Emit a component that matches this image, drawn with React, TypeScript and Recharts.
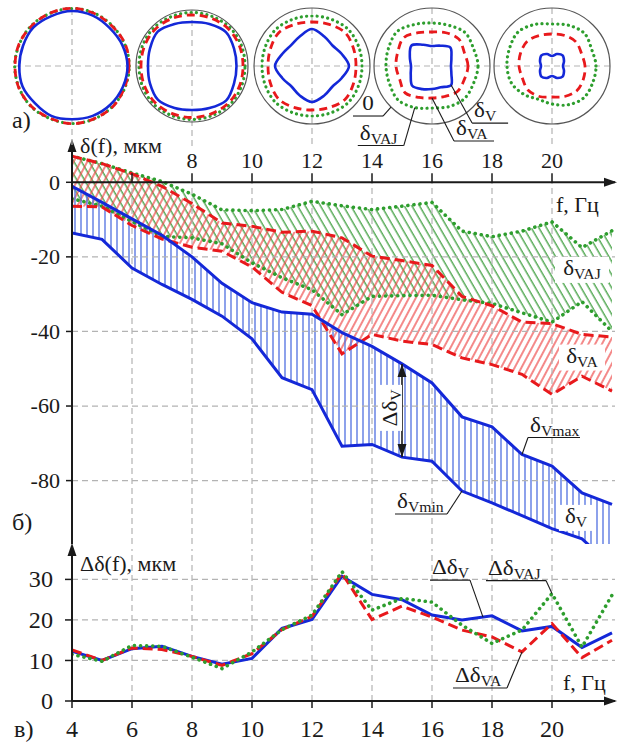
import React from 'react';
import { ComposedChart, LineChart, Line, Area, XAxis, YAxis, ReferenceLine, ReferenceDot } from 'recharts';

const FONT = "'Liberation Serif', 'Times New Roman', serif";
const SX = 1.05;
const INK = '#1a1a1a';
const BLUE = '#1428d8';
const RED = '#e8191c';
const GREEN = '#2e9e2e';
const GRID = '#b3b3b3';

// ---------- main panel (б) ----------
const freq = [4, 5, 6, 7, 8, 9, 10, 11, 12, 13, 14, 15, 16, 17, 18, 19, 20, 21, 22];
const vMax = [-1.1, -5.4, -9.8, -14.2, -20.0, -27.1, -32.3, -34.8, -35.4, -40.3, -44.0, -48.7, -53.8, -62.9, -65.6, -73.0, -76.1, -83.3, -86.4];
const vMin = [-13.6, -15.3, -23.0, -27.4, -31.4, -35.9, -42.0, -52.4, -55.6, -70.8, -70.3, -73.7, -74.8, -82.8, -86.0, -89.4, -92.9, -95.6, -103.0];
const vaUp = [7.0, 5.0, 2.3, -1.1, -5.7, -10.9, -11.8, -13.4, -13.1, -14.9, -19.8, -21.0, -22.3, -30.6, -33.1, -37.5, -37.9, -40.8, -41.5];
const vaLow = [-6.4, -6.6, -11.6, -15.2, -17.4, -18.5, -22.7, -29.5, -33.1, -46.0, -40.8, -42.6, -43.5, -47.1, -48.9, -51.5, -56.9, -52.0, -56.0];
const vajUp = [7.0, 5.0, 2.5, 0.2, -3.2, -7.4, -7.6, -7.3, -5.1, -6.3, -7.3, -6.4, -5.4, -13.1, -14.6, -13.1, -10.6, -17.5, -13.0];
const vajLow = [-4.4, -6.4, -10.5, -14.5, -14.9, -16.5, -21.6, -25.6, -28.8, -35.5, -30.6, -30.4, -30.3, -31.5, -32.5, -35.0, -37.5, -32.0, -40.0];
const mainYTicks = [-80, -60, -40, -20, 0];
const mainGridY = [-20, -40, -60, -80];
const mainGridX = [6, 8, 10, 12, 14, 16, 18, 20];
const mainXLabels = [8, 10, 12, 14, 16, 18, 20];

// ---------- bottom panel (в) ----------
const dV = [12.3, 10.0, 12.9, 13.5, 11.0, 9.1, 10.5, 17.9, 20.1, 30.8, 26.3, 25.0, 21.2, 20.0, 21.0, 17.3, 18.4, 13.2, 16.8];
const dVA = [12.6, 10.0, 13.1, 12.7, 11.0, 8.8, 11.7, 17.6, 20.9, 31.5, 20.1, 23.4, 20.7, 17.5, 15.8, 12.1, 19.1, 10.7, 15.0];
const dVAJ = [11.5, 9.8, 13.7, 13.5, 10.8, 8.0, 12.1, 17.6, 21.2, 31.9, 22.4, 25.3, 24.4, 18.7, 14.2, 17.5, 26.5, 13.3, 26.1];
const botYTicks = [0, 10, 20, 30];
const botXTicks = [4, 6, 8, 10, 12, 14, 16, 18, 20];
const botGridY = [10, 20, 30];

// ---------- polar profiles (а) ----------
const polarAngles = [0, 22.5, 45, 67.5, 90, 112.5, 135, 157.5, 180, 202.5, 225, 247.5, 270, 292.5, 315, 337.5];
const p4V = [55.5, 54.5, 53.5, 54.5, 55, 54, 54.5, 53, 52.7, 53.5, 52.5, 54, 53.3, 54, 54.5, 55];
const p4VA = [57, 57.5, 56.5, 57, 57.7, 57.2, 56.8, 57.3, 57, 57.5, 57.2, 56.6, 57.7, 57.2, 57.6, 56.8];
const p4VAJ = [57.3, 57, 57, 57.4, 57.5, 57, 57.3, 57, 57.3, 57.2, 57.6, 57, 57.5, 57.4, 57.2, 57.2];
const p8V = [44.5, 45.5, 48, 45.5, 44, 45.5, 48.5, 45.5, 44, 45.5, 48, 45.5, 44, 45.5, 48.5, 45.5];
const p8VA = [51, 51.5, 52, 51.5, 51, 51.5, 52, 51.5, 51, 51.5, 52, 51.5, 51.5, 51.5, 52, 51.5];
const p8VAJ = [53, 53.5, 54, 53.5, 53.5, 53.5, 54, 53.5, 53, 53.5, 54, 53.5, 53.5, 53.5, 54, 53.5];
const p12V = [37, 32, 29, 32, 37, 32, 29.5, 32, 37, 32, 29, 32, 36, 32, 29, 32];
const p12VA = [44, 45, 47, 45, 44, 45, 47, 45, 44, 45, 47, 45, 44, 45, 47, 45];
const p12VAJ = [50, 50.5, 51.5, 50.5, 50, 50.5, 51.5, 50.5, 50, 50.5, 51.5, 50.5, 50, 50.5, 51.5, 50.5];
const p16V = [19, 21, 26, 22, 20, 23, 29, 24, 21, 23, 28, 25, 23, 23, 27, 21];
const p16VA = [36, 35, 38, 36, 34, 36, 40, 37, 36, 35, 38, 34, 32, 33, 36, 35];
const p16VAJ = [46, 45, 47, 44, 43, 45, 49, 47, 46, 46, 48, 45, 42, 44, 46, 45];
const p20V = [11, 13, 15, 13, 10, 13, 15, 13, 11, 13, 15, 13, 10, 13, 15, 13];
const p20VA = [33, 32, 34, 33, 32, 33, 35, 34, 33, 32, 34, 33, 31, 33, 35, 34];
const p20VAJ = [44, 43, 46, 44, 42, 45, 48, 46, 45, 44, 40, 36, 38, 42, 45, 44];

const mainData = freq.map((f, i) => ({
  f,
  vMax: vMax[i], vMin: vMin[i], vBand: [vMin[i], vMax[i]],
  vaUp: vaUp[i], vaLow: vaLow[i], vaBand: [vaLow[i], vaUp[i]],
  vajUp: vajUp[i], vajLow: vajLow[i], vajBand: [vajLow[i], vajUp[i]],
}));
const botData = freq.map((f, i) => ({ f, dV: dV[i], dVA: dVA[i], dVAJ: dVAJ[i] }));

const toXY = (r: number[]) =>
  r.map((rr, i) => ({ x: rr * Math.cos((polarAngles[i] * Math.PI) / 180), y: rr * Math.sin((polarAngles[i] * Math.PI) / 180) }));

// closed Catmull-Rom curve through the profile points
const closedCurve = (context: any) => {
  let pts: number[][] = [];
  return {
    areaStart() {},
    areaEnd() {},
    lineStart() { pts = []; },
    point(x: number, y: number) { pts.push([+x, +y]); },
    lineEnd() {
      const n = pts.length;
      if (n < 3) return;
      context.moveTo(pts[0][0], pts[0][1]);
      for (let i = 0; i < n; i++) {
        const p0 = pts[(i - 1 + n) % n], p1 = pts[i], p2 = pts[(i + 1) % n], p3 = pts[(i + 2) % n];
        context.bezierCurveTo(
          p1[0] + (p2[0] - p0[0]) / 6, p1[1] + (p2[1] - p0[1]) / 6,
          p2[0] - (p3[0] - p1[0]) / 6, p2[1] - (p3[1] - p1[1]) / 6,
          p2[0], p2[1]);
      }
      context.closePath();
    },
  };
};

function SubText({ x, y, main, sub, size = 22, subSize = 15, anchor = 'start', rotate = 0 }: any) {
  const tr = rotate ? `translate(${x},${y}) rotate(${rotate}) scale(${SX},1)` : `translate(${x},${y}) scale(${SX},1)`;
  return (
    <text transform={tr} textAnchor={anchor} fontFamily={FONT} fontSize={size} fill={INK}>
      {main}
      {sub ? <tspan fontSize={subSize} dy={4}>{sub}</tspan> : null}
    </text>
  );
}

const leaderShape = (o: { dx: number; dy: number; len: number; main: string; sub?: string; size?: number; subSize?: number; center?: boolean }) => (p: any) => {
  const ex = p.cx + o.dx;
  const ey = p.cy + o.dy;
  const ux = ex + o.len;
  const left = Math.min(ex, ux);
  const mid = (ex + ux) / 2;
  return (
    <g>
      <line x1={p.cx} y1={p.cy} x2={ex} y2={ey} stroke={INK} strokeWidth={1.1} />
      <line x1={ex} y1={ey} x2={ux} y2={ey} stroke={INK} strokeWidth={1.1} />
      <SubText x={o.center ? mid : left + 2} y={ey - 6} main={o.main} sub={o.sub} size={o.size || 22} subSize={o.subSize || 15} anchor={o.center ? 'middle' : 'start'} />
    </g>
  );
};

const tagShape = (o: { main: string; sub?: string; w: number; h?: number; rotate?: number }) => (p: any) => {
  const h = o.h || 26;
  if (o.rotate) {
    return (
      <g>
        <rect x={p.cx - h / 2} y={p.cy - o.w / 2} width={h} height={o.w} fill="#fff" />
        <SubText x={p.cx + 7} y={p.cy} main={o.main} sub={o.sub} anchor="middle" rotate={-90} />
      </g>
    );
  }
  return (
    <g>
      <rect x={p.cx - o.w / 2} y={p.cy - h / 2} width={o.w} height={h} fill="#fff" />
      <SubText x={p.cx} y={p.cy + 5} main={o.main} sub={o.sub} anchor="middle" />
    </g>
  );
};

const arrowUp = (p: any) => <polygon points={`${p.cx},${p.cy - 6} ${p.cx - 4.5},${p.cy + 7} ${p.cx + 4.5},${p.cy + 7}`} fill={INK} />;
const arrowDown = (p: any) => <polygon points={`${p.cx},${p.cy} ${p.cx - 4.5},${p.cy - 13} ${p.cx + 4.5},${p.cy - 13}`} fill={INK} />;
const arrowTipUp = (p: any) => <polygon points={`${p.cx},${p.cy} ${p.cx - 4.5},${p.cy + 13} ${p.cx + 4.5},${p.cy + 13}`} fill={INK} />;
const arrowRight = (p: any) => <polygon points={`${p.cx + 2},${p.cy} ${p.cx - 11},${p.cy - 4.5} ${p.cx - 11},${p.cy + 4.5}`} fill={INK} />;

const YTick = (size: number) => (p: any) => (
  <text transform={`translate(${p.x},${p.y}) scale(${SX},1)`} dy="0.35em" textAnchor="end" fontFamily={FONT} fontSize={size} fill={INK}>
    {p.payload.value}
  </text>
);
const XTickBottom = (size: number) => (p: any) => (
  <text transform={`translate(${p.x},${p.y}) scale(${SX},1)`} dy="0.71em" textAnchor="middle" fontFamily={FONT} fontSize={size} fill={INK}>
    {p.payload.value}
  </text>
);
const xLabelShape = (text: string) => (p: any) => (
  <text transform={`translate(${p.cx},${p.cy - 14}) scale(${SX},1)`} textAnchor="middle" fontFamily={FONT} fontSize={21} fill={INK}>
    {text}
  </text>
);

function PolarPanel({ cx, v, va, vaj, ring, labels }: any) {
  const R = ring || 57;
  return (
    <div style={{ position: 'absolute', left: cx - 120, top: 4, width: 240, height: 144 }}>
      <LineChart width={240} height={144} margin={{ top: 0, right: 0, bottom: 0, left: 0 }}>
        <XAxis type="number" dataKey="x" domain={[-120, 120]} hide allowDataOverflow />
        <YAxis type="number" dataKey="y" domain={[-82, 62]} hide allowDataOverflow />
        <ReferenceLine segment={[{ x: -R, y: 0 }, { x: R, y: 0 }]} stroke={GRID} strokeWidth={1.2} strokeDasharray="6 4" ifOverflow="visible" />
        <ReferenceLine segment={[{ x: 0, y: R }, { x: 0, y: -82 }]} stroke={GRID} strokeWidth={1.2} strokeDasharray="6 4" ifOverflow="visible" />
        {ring ? <ReferenceDot x={0} y={0} r={ring} fill="none" stroke="#555" strokeWidth={1.2} ifOverflow="visible" /> : null}
        <Line data={toXY(vaj)} dataKey="y" type={closedCurve as any} stroke={GREEN} strokeWidth={3.2} strokeDasharray="0.1 5.2" strokeLinecap="round" dot={false} activeDot={false} isAnimationActive={false} />
        <Line data={toXY(va)} dataKey="y" type={closedCurve as any} stroke={RED} strokeWidth={2.8} strokeDasharray="8 5" dot={false} activeDot={false} isAnimationActive={false} />
        <Line data={toXY(v)} dataKey="y" type={closedCurve as any} stroke={BLUE} strokeWidth={2.6} dot={false} activeDot={false} isAnimationActive={false} />
        {labels
          ? labels.map((l: any, i: number) => (
              <ReferenceDot key={i} x={l.x} y={l.y} r={1} ifOverflow="visible" shape={leaderShape(l.o)} />
            ))
          : null}
      </LineChart>
    </div>
  );
}

const polarPt = (r: number, idx: number) => ({
  x: r * Math.cos((polarAngles[idx] * Math.PI) / 180),
  y: r * Math.sin((polarAngles[idx] * Math.PI) / 180),
});

export default function App() {
  const g0 = polarPt(58, 10);
  const gVAJ = polarPt(p16VAJ[11], 11);
  const gVA = polarPt(p16VA[12], 12);
  const gV = polarPt(p16V[14], 14);
  const polarLabels = [
    { x: g0.x, y: g0.y, o: { dx: -8, dy: 9, len: -30, main: '0', center: true } },
    { x: gVAJ.x, y: gVAJ.y, o: { dx: -11, dy: 38, len: -46, main: 'δ', sub: 'VAJ' } },
    { x: gVA.x, y: gVA.y, o: { dx: 22, dy: 43, len: 40, main: 'δ', sub: 'VA' } },
    { x: gV.x, y: gV.y, o: { dx: 21, dy: 38, len: 36, main: 'δ', sub: 'V' } },
  ];

  return (
    <div style={{ position: 'absolute', left: 0, top: 0, width: 621, height: 742, overflow: 'hidden', background: '#fff' }}>
      {/* main panel */}
      <div style={{ position: 'absolute', left: 0, top: 0 }}>
        <ComposedChart width={621} height={742} data={mainData} margin={{ top: 145, right: 6, bottom: 198, left: 0 }}>
          <defs>
            <pattern id="hB" patternUnits="userSpaceOnUse" width="6" height="10">
              <line x1="3" y1="0" x2="3" y2="10" stroke="#4f6fe0" strokeWidth="1.3" />
            </pattern>
            <pattern id="hR" patternUnits="userSpaceOnUse" width="6" height="10" patternTransform="rotate(28)">
              <line x1="3" y1="0" x2="3" y2="10" stroke="#ee4a4a" strokeWidth="1.3" />
            </pattern>
            <pattern id="hG" patternUnits="userSpaceOnUse" width="6.6" height="10" patternTransform="rotate(-30)">
              <line x1="3" y1="0" x2="3" y2="10" stroke="#3f9e3f" strokeWidth="1.3" />
            </pattern>
          </defs>
          <XAxis dataKey="f" type="number" domain={[4, 22.1]} hide allowDataOverflow />
          <YAxis
            type="number"
            domain={[-97, 10]}
            ticks={mainYTicks}
            interval={0}
            width={72}
            allowDataOverflow
            axisLine={{ stroke: INK, strokeWidth: 2 }}
            tickLine={{ stroke: INK, strokeWidth: 1.5 }}
            tickSize={6}
            tickMargin={6}
            tick={YTick(21)}
          />
          {mainGridY.map((v) => (
            <ReferenceLine key={'gy' + v} y={v} stroke={GRID} strokeWidth={1.2} strokeDasharray="6 4" ifOverflow="visible" />
          ))}
          {mainGridX.map((f) => (
            <ReferenceLine key={'gx' + f} segment={[{ x: f, y: -97 }, { x: f, y: 0 }]} stroke={GRID} strokeWidth={1.2} strokeDasharray="6 4" ifOverflow="visible" />
          ))}
          <Area dataKey="vajBand" type="linear" fill="url(#hG)" stroke="none" fillOpacity={1} isAnimationActive={false} activeDot={false} />
          <Area dataKey="vaBand" type="linear" fill="url(#hR)" stroke="none" fillOpacity={1} isAnimationActive={false} activeDot={false} />
          <Area dataKey="vBand" type="linear" fill="url(#hB)" stroke="none" fillOpacity={1} isAnimationActive={false} activeDot={false} />
          <Line dataKey="vajUp" type="linear" stroke={GREEN} strokeWidth={3.6} strokeDasharray="0.1 6" strokeLinecap="round" dot={false} activeDot={false} isAnimationActive={false} />
          <Line dataKey="vajLow" type="linear" stroke={GREEN} strokeWidth={3.6} strokeDasharray="0.1 6" strokeLinecap="round" dot={false} activeDot={false} isAnimationActive={false} />
          <Line dataKey="vaUp" type="linear" stroke={RED} strokeWidth={3} strokeDasharray="10 5" dot={false} activeDot={false} isAnimationActive={false} />
          <Line dataKey="vaLow" type="linear" stroke={RED} strokeWidth={3} strokeDasharray="10 5" dot={false} activeDot={false} isAnimationActive={false} />
          <Line dataKey="vMax" type="linear" stroke={BLUE} strokeWidth={3} dot={false} activeDot={false} isAnimationActive={false} />
          <Line dataKey="vMin" type="linear" stroke={BLUE} strokeWidth={3} dot={false} activeDot={false} isAnimationActive={false} />
          <ReferenceLine y={0} stroke={INK} strokeWidth={2} ifOverflow="visible" />
          {mainGridX.map((f) => (
            <ReferenceLine key={'tk' + f} segment={[{ x: f, y: 0 }, { x: f, y: 2.4 }]} stroke={INK} strokeWidth={1.5} ifOverflow="visible" />
          ))}
          {mainXLabels.map((f) => (
            <ReferenceDot key={'xl' + f} x={f} y={0} r={1} ifOverflow="visible" shape={xLabelShape(String(f))} />
          ))}
          <ReferenceDot x={4} y={10} r={1} ifOverflow="visible" shape={arrowUp} />
          <ReferenceDot x={22.1} y={0} r={1} ifOverflow="visible" shape={arrowRight} />
          {/* Δδ_V double arrow at f = 15 */}
          <ReferenceLine segment={[{ x: 15, y: vMin[11] }, { x: 15, y: vMax[11] }]} stroke={INK} strokeWidth={1.6} ifOverflow="visible" />
          <ReferenceDot x={15} y={vMax[11]} r={1} ifOverflow="visible" shape={arrowTipUp} />
          <ReferenceDot x={15} y={vMin[11]} r={1} ifOverflow="visible" shape={arrowDown} />
          <ReferenceDot x={14.6} y={-60.5} r={1} ifOverflow="visible" shape={tagShape({ main: 'Δδ', sub: 'V', w: 46, h: 24, rotate: -90 })} />
          <ReferenceDot x={21} y={-23.5} r={1} ifOverflow="visible" shape={tagShape({ main: 'δ', sub: 'VAJ', w: 54 })} />
          <ReferenceDot x={21} y={-47} r={1} ifOverflow="visible" shape={tagShape({ main: 'δ', sub: 'VA', w: 46 })} />
          <ReferenceDot x={20.8} y={-90} r={1} ifOverflow="visible" shape={tagShape({ main: 'δ', sub: 'V', w: 34 })} />
          <ReferenceDot x={19} y={vMax[15]} r={1} ifOverflow="visible" shape={leaderShape({ dx: 6, dy: -17, len: 52, main: 'δ', sub: 'Vmax' })} />
          <ReferenceDot x={17} y={vMin[13]} r={1} ifOverflow="visible" shape={leaderShape({ dx: -15, dy: 23, len: -52, main: 'δ', sub: 'Vmin' })} />
        </ComposedChart>
      </div>

      {/* bottom panel */}
      <div style={{ position: 'absolute', left: 0, top: 0 }}>
        <LineChart width={621} height={742} data={botData} margin={{ top: 549, right: 6, bottom: 0, left: 0 }}>
          <XAxis
            dataKey="f"
            type="number"
            domain={[4, 22.1]}
            ticks={botXTicks}
            interval={0}
            allowDataOverflow
            height={41}
            axisLine={{ stroke: INK, strokeWidth: 2 }}
            tickLine={{ stroke: INK, strokeWidth: 1.5 }}
            tickSize={7}
            tickMargin={13}
            tick={XTickBottom(23)}
          />
          <YAxis
            type="number"
            domain={[0, 37.5]}
            ticks={botYTicks}
            interval={0}
            width={72}
            allowDataOverflow
            axisLine={{ stroke: INK, strokeWidth: 2 }}
            tickLine={{ stroke: INK, strokeWidth: 1.5 }}
            tickSize={7}
            tickMargin={12}
            tick={YTick(23)}
          />
          {botGridY.map((v) => (
            <ReferenceLine key={'by' + v} y={v} stroke={GRID} strokeWidth={1.2} strokeDasharray="6 4" ifOverflow="visible" />
          ))}
          {mainGridX.map((f) => (
            <ReferenceLine key={'bx' + f} segment={[{ x: f, y: 0 }, { x: f, y: 37.5 }]} stroke={GRID} strokeWidth={1.2} strokeDasharray="6 4" ifOverflow="visible" />
          ))}
          <Line dataKey="dV" type="linear" stroke={BLUE} strokeWidth={3} dot={false} activeDot={false} isAnimationActive={false} />
          <Line dataKey="dVA" type="linear" stroke={RED} strokeWidth={3} strokeDasharray="10 5" dot={false} activeDot={false} isAnimationActive={false} />
          <Line dataKey="dVAJ" type="linear" stroke={GREEN} strokeWidth={3.6} strokeDasharray="0.1 6" strokeLinecap="round" dot={false} activeDot={false} isAnimationActive={false} />
          <ReferenceDot x={4} y={37.5} r={1} ifOverflow="visible" shape={arrowUp} />
          <ReferenceDot x={22.1} y={0} r={1} ifOverflow="visible" shape={arrowRight} />
          <ReferenceDot x={17.7} y={20.7} r={1} ifOverflow="visible" shape={leaderShape({ dx: -13, dy: -37, len: -40, main: 'Δδ', sub: 'V' })} />
          <ReferenceDot x={20} y={dVAJ[16]} r={1} ifOverflow="visible" shape={leaderShape({ dx: -6, dy: -13, len: -60, main: 'Δδ', sub: 'VAJ' })} />
          <ReferenceDot x={19} y={dVA[15]} r={1} ifOverflow="visible" shape={leaderShape({ dx: -15, dy: 36, len: -54, main: 'Δδ', sub: 'VA' })} />
        </LineChart>
      </div>

      {/* polar profiles */}
      <PolarPanel cx={72} v={p4V} va={p4VA} vaj={p4VAJ} ring={0} />
      <PolarPanel cx={192} v={p8V} va={p8VA} vaj={p8VAJ} ring={56} />
      <PolarPanel cx={312} v={p12V} va={p12VA} vaj={p12VAJ} ring={58} />
      <PolarPanel cx={432} v={p16V} va={p16VA} vaj={p16VAJ} ring={58} labels={polarLabels} />
      <PolarPanel cx={552} v={p20V} va={p20VA} vaj={p20VAJ} ring={58} />

      {/* titles */}
      <svg width={621} height={742} style={{ position: 'absolute', left: 0, top: 0, pointerEvents: 'none' }}>
        <SubText x={12} y={128} main="а)" size={23} />
        <SubText x={12} y={530} main="б)" size={23} />
        <SubText x={14} y={737} main="в)" size={23} />
        <SubText x={80} y={153} main="δ(f), мкм" size={21} />
        <SubText x={556} y={212} main="f, Гц" size={21} />
        <SubText x={80} y={571} main="Δδ(f), мкм" size={21} />
        <SubText x={563} y={690} main="f, Гц" size={21} />
      </svg>
    </div>
  );
}
